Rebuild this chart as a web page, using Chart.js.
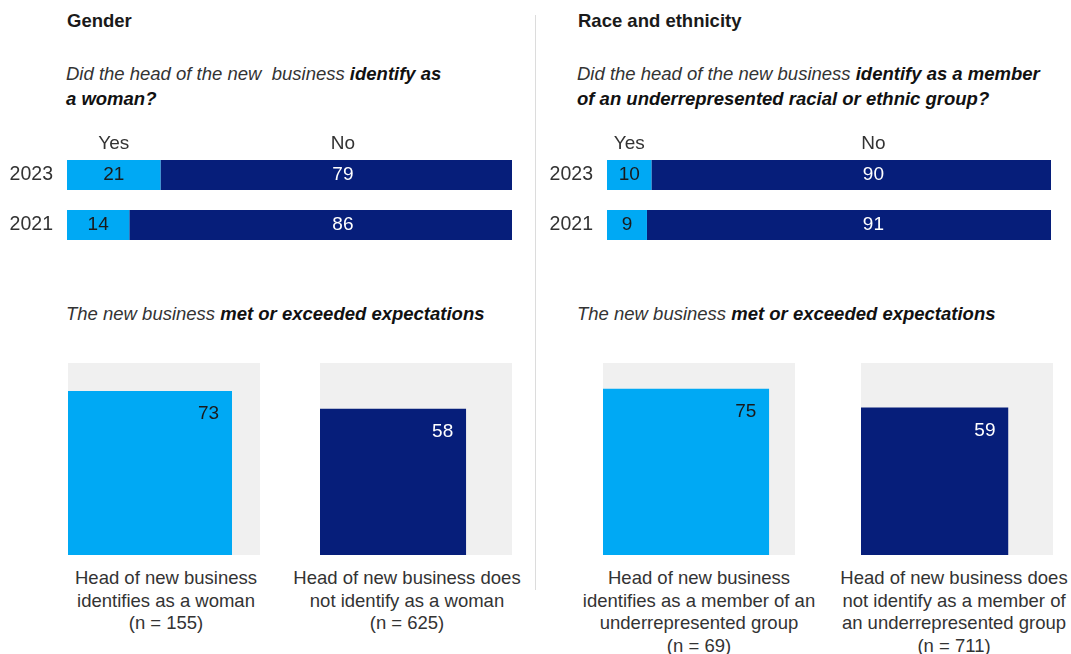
<!DOCTYPE html>
<html>
<head>
<meta charset="utf-8">
<script src="https://cdn.jsdelivr.net/npm/chart.js@4/dist/chart.umd.min.js"></script>
<style>
  body { margin: 0; background: #fff; font-family: "Liberation Sans", Arial, sans-serif; color: #333; }
  #page { position: relative; width: 1071px; height: 654px; overflow: hidden; }
  .abs { position: absolute; }
  .head { font-size: 18.5px; font-weight: bold; color: #1a1a1a; line-height: 22px; }
  .sub { font-size: 18.5px; font-style: italic; color: #333; line-height: 25px; }
  .sub b { color: #111; }
  .cap { font-size: 18.5px; color: #333; line-height: 22.5px; text-align: center; width: 270px; }
  .divider { left: 535px; top: 15px; width: 1px; height: 575px; background: #dcdcdc; }
  canvas { position: absolute; }
</style>
</head>
<body>
<div id="page">
  <div class="abs head" style="left:67px; top:10px;">Gender</div>
  <div class="abs head" style="left:578px; top:10px;">Race and ethnicity</div>
  <div class="abs sub" style="left:66px; top:61px;">Did the head of the new&nbsp; business <b>identify as<br>a woman?</b></div>
  <div class="abs sub" style="left:577px; top:61px;">Did the head of the new business <b>identify as a member<br>of an underrepresented racial or ethnic group?</b></div>
  <div class="abs sub" style="left:66px; top:301px;">The new business <b>met or exceeded expectations</b></div>
  <div class="abs sub" style="left:577px; top:301px;">The new business <b>met or exceeded expectations</b></div>
  <div class="abs divider"></div>

  <canvas id="genderBars" width="520" height="125" style="left:0; top:125px;"></canvas>
  <canvas id="raceBars" width="530" height="125" style="left:530px; top:125px;"></canvas>

  <canvas id="gSq0" width="192" height="192" style="left:68px; top:363px;"></canvas>
  <canvas id="gSq1" width="192" height="192" style="left:320px; top:363px;"></canvas>
  <canvas id="rSq0" width="192" height="192" style="left:603px; top:363px;"></canvas>
  <canvas id="rSq1" width="192" height="192" style="left:861px; top:363px;"></canvas>

  <div class="abs cap" id="gCap0" style="left:31px; top:567px;"></div>
  <div class="abs cap" id="gCap1" style="left:272px; top:567px;"></div>
  <div class="abs cap" id="rCap0" style="left:564px; top:567px;"></div>
  <div class="abs cap" id="rCap1" style="left:819px; top:567px;"></div>
</div>

<script>
// survey years and answers
const years = ["2023", "2021"];
const answers = ["Yes", "No"];

const genderYes = [21, 14];
const genderNo = [79, 86];
const raceYes = [10, 9];
const raceNo = [90, 91];

// share of new businesses that met or exceeded expectations
const genderMet = [73, 58];
const genderN = [155, 625];
const genderGroups = [
  ["Head of new business", "identifies as a woman"],
  ["Head of new business does", "not identify as a woman"]
];

const raceMet = [75, 59];
const raceN = [69, 711];
const raceGroups = [
  ["Head of new business", "identifies as a member of an", "underrepresented group"],
  ["Head of new business does", "not identify as a member of", "an underrepresented group"]
];

const LIGHT = "#00A9F4";
const NAVY = "#061E7A";
const GREY = "#F0F0F0";
const NUM_FONT = '19px "Liberation Sans", Arial, sans-serif';

Chart.defaults.font.family = '"Liberation Sans", Arial, sans-serif';
Chart.defaults.font.size = 19;
Chart.defaults.color = "#333";
Chart.defaults.animation = false;

// writes the values inside the stacked bars and the Yes/No headers above them
const barLabels = {
  id: "barLabels",
  afterDatasetsDraw(chart, args, opts) {
    const ctx = chart.ctx;
    const xs = chart.scales.x;
    ctx.save();
    ctx.font = NUM_FONT;
    ctx.textAlign = "center";
    ctx.textBaseline = "middle";
    chart.data.datasets.forEach((ds, i) => {
      chart.getDatasetMeta(i).data.forEach((bar, j) => {
        const cx = i === 0 ? (bar.base + bar.x) / 2 : xs.getPixelForValue(opts.noAt);
        ctx.fillStyle = ds.labelColor;
        ctx.fillText(ds.data[j], cx, bar.y);
        if (j === 0) {
          ctx.fillStyle = "#333";
          ctx.fillText(ds.label, cx, bar.y - 31);
        }
      });
    });
    ctx.restore();
  }
};

function stackedBars(id, yes, no, axisWidth, rightPad, noAt) {
  new Chart(document.getElementById(id), {
    type: "bar",
    data: {
      labels: years,
      datasets: [
        { label: answers[0], data: yes, backgroundColor: LIGHT, labelColor: "#1a1a1a" },
        { label: answers[1], data: no, backgroundColor: NAVY, labelColor: "#fff" }
      ]
    },
    options: {
      indexAxis: "y",
      responsive: false,
      devicePixelRatio: 1,
      barPercentage: 0.6,
      categoryPercentage: 1,
      layout: { padding: { top: 25, right: rightPad, bottom: 0, left: 0 } },
      scales: {
        x: { stacked: true, min: 0, max: 100, display: false },
        y: {
          stacked: true,
          grid: { display: false, drawTicks: false },
          border: { display: false },
          ticks: { padding: 14, color: "#333", font: { size: 19.5 } },
          afterFit: (s) => {
            s.width = axisWidth;
            s.paddingTop = 0;
            s.paddingBottom = 0;
          }
        }
      },
      plugins: {
        legend: { display: false },
        tooltip: { enabled: false },
        barLabels: { noAt: noAt }
      }
    },
    plugins: [barLabels]
  });
}

stackedBars("genderBars", genderYes, genderNo, 67, 8, 62);
stackedBars("raceBars", raceYes, raceNo, 77, 9, 60);

// value label in the top-right corner of the coloured square
const squareLabel = {
  id: "squareLabel",
  afterDatasetsDraw(chart, args, opts) {
    const ctx = chart.ctx;
    const side = chart.data.datasets[0].data[1].x;
    ctx.save();
    ctx.font = NUM_FONT;
    ctx.textAlign = "right";
    ctx.textBaseline = "middle";
    ctx.fillStyle = opts.color;
    ctx.fillText(opts.value, chart.scales.x.getPixelForValue(side) - 13, chart.scales.y.getPixelForValue(side) + 23);
    ctx.restore();
  }
};

// the square's area shows the share, so its side is the square root of it
function square(id, value, color, textColor) {
  const side = Math.sqrt(value / 100) * 100;
  new Chart(document.getElementById(id), {
    type: "scatter",
    data: {
      datasets: [
        {
          data: [{ x: 0, y: side }, { x: side, y: side }],
          showLine: true, fill: "origin", backgroundColor: color,
          borderColor: "rgba(0,0,0,0)", borderWidth: 0, pointRadius: 0
        },
        {
          data: [{ x: 0, y: 100 }, { x: 100, y: 100 }],
          showLine: true, fill: "origin", backgroundColor: GREY,
          borderColor: "rgba(0,0,0,0)", borderWidth: 0, pointRadius: 0
        }
      ]
    },
    options: {
      responsive: false,
      devicePixelRatio: 1,
      layout: { padding: 0 },
      scales: {
        x: { type: "linear", min: 0, max: 100, display: false },
        y: { type: "linear", min: 0, max: 100, display: false }
      },
      plugins: {
        legend: { display: false },
        tooltip: { enabled: false },
        squareLabel: { value: value, color: textColor }
      }
    },
    plugins: [squareLabel]
  });
}

square("gSq0", genderMet[0], LIGHT, "#1a1a1a");
square("gSq1", genderMet[1], NAVY, "#fff");
square("rSq0", raceMet[0], LIGHT, "#1a1a1a");
square("rSq1", raceMet[1], NAVY, "#fff");

function caption(id, lines, n) {
  document.getElementById(id).innerHTML = lines.concat(["(n = " + n + ")"]).join("<br>");
}
caption("gCap0", genderGroups[0], genderN[0]);
caption("gCap1", genderGroups[1], genderN[1]);
caption("rCap0", raceGroups[0], raceN[0]);
caption("rCap1", raceGroups[1], raceN[1]);
</script>
</body>
</html>
